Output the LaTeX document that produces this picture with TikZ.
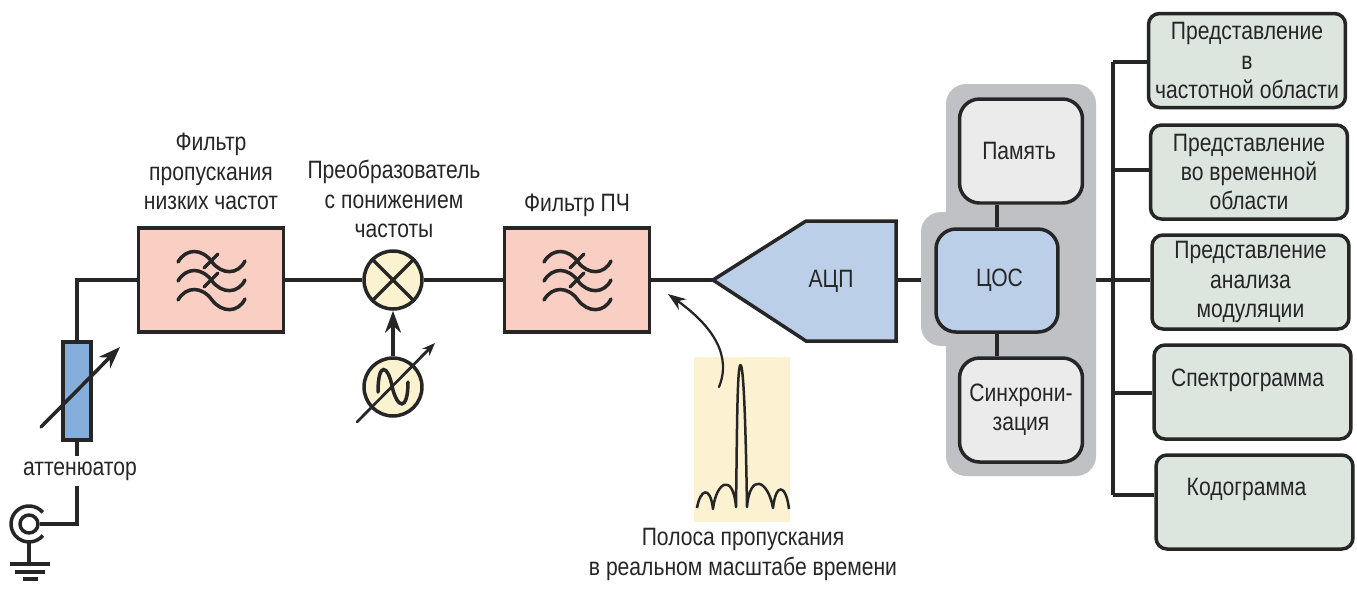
\documentclass[tikz,border=0pt]{standalone}
\usepackage{fontspec}
\setmainfont[FakeStretch=0.84]{Liberation Sans}
\usetikzlibrary{arrows.meta}

\definecolor{inkline}{HTML}{262626}
\definecolor{filterfill}{HTML}{F8CFC2}
\definecolor{mixfill}{HTML}{FBF3D0}
\definecolor{attfill}{HTML}{85AEDB}
\definecolor{dspfill}{HTML}{BBCFE9}
\definecolor{grayblock}{HTML}{BFC1C4}
\definecolor{auxfill}{HTML}{EBEBEB}
\definecolor{viewfill}{HTML}{DCE6DF}
\definecolor{bandfill}{HTML}{FCF2D2}

\tikzset{
  caption/.style={align=center,inner sep=0pt,text=inkline,font=\fontsize{14.3}{16.7}\selectfont},
  filter node/.style={rectangle,draw=inkline,fill=filterfill,minimum width=2.9cm,minimum height=2.08cm},
  mix node/.style={circle,draw=inkline,fill=mixfill,minimum size=1.16cm,inner sep=0pt},
  aux node/.style={caption,rectangle,rounded corners=0.4cm,draw=inkline,fill=auxfill,minimum width=2.46cm,minimum height=2.08cm},
  view node/.style={caption,rectangle,rounded corners=0.22cm,draw=inkline,fill=viewfill,minimum width=3.94cm,minimum height=1.88cm},
  bigtip/.style={-{Stealth[length=0.44cm,width=0.32cm]}},
  curvetip/.style={-{Stealth[length=0.36cm,width=0.26cm]}},
  smalltip/.style={-{Stealth[length=0.26cm,width=0.2cm]}},
  filter wave/.pic={
    \foreach \dy in {-19,0,19} {
      \draw[line width=0.07cm,line cap=round] (-33,\dy) .. controls (-25,-14+\dy) and (-9,-14+\dy) .. (1,\dy)
        .. controls (11,13+\dy) and (27,13+\dy) .. (34,-1+\dy);
    }
    \foreach \dy in {-19,0} {
      \draw[line width=0.07cm,line cap=round] (-7,6+\dy) -- (7,-8+\dy);
    }
  }
}

\begin{document}
\begin{tikzpicture}[x=0.02cm,y=-0.02cm,line width=0.07cm,draw=inkline]
  \useasboundingbox (0,0) rectangle (1357,600);

  % gray back of the processor
  \fill[grayblock,rounded corners=0.4cm] (946,84) rectangle (1096,476);
  \fill[grayblock,rounded corners=0.4cm] (921,212) rectangle (990,346);
  \fill[bandfill] (694,357) rectangle (790,522);

  \node[filter node] (lpf) at (211,280) {};
  \pic at (211,281) {filter wave};
  \node[filter node] (iff) at (577,280) {};
  \pic at (577,281) {filter wave};
  \node[mix node] (mix) at (393,280) {};
  \node[mix node] (osc) at (393,387) {};
  \node[rectangle,draw=inkline,fill=attfill,minimum width=0.56cm,minimum height=1.96cm] (att) at (77,391) {};
  \node[caption,minimum height=0.52cm] (attname) at (80,471) {аттенюатор};
  \node[circle,draw=inkline,minimum size=0.36cm,inner sep=0pt] (conn) at (29,524) {};
  \coordinate (gndtop) at (29,542);
  \coordinate (gnd) at (29,564);

  \coordinate (adctip) at (713,280);
  \draw[fill=dspfill,line join=miter] (adctip) -- (806,221) -- (896,221) -- (896,341) -- (806,341) -- cycle;
  \node[caption] (adc) at (831,281) {АЦП};
  \coordinate (adcout) at (896,280);
  \coordinate (blockin) at (921,280);
  \coordinate (blockout) at (1096,280);

  \node[aux node] (mem) at (1021,151) {Память\hspace{0.08cm}};
  \node[aux node,fill=dspfill,minimum width=2.44cm,minimum height=2.06cm] (dsp) at (997,280.5) {\hspace{0.1cm}ЦОС};
  \node[aux node] (sync) at (1021,410) {Синхрони-\\зация};

  % output views
  \node[view node] (freq) at (1247,60.5) {Представление\\в\\частотной области};
  \node[view node] (time) at (1249,172) {Представление\\во временной\\области};
  \node[view node] (modul) at (1250.5,282) {Представление\\анализа\\модуляции};
  \node[view node] (spec) at (1252.5,392) {Спектрограмма\hspace{0.2cm}\mbox{}\\\mbox{}};
  \node[view node] (code) at (1254.5,502) {Кодограмма\hspace{0.32cm}\mbox{}\\\mbox{}};
  \coordinate (bustop) at (1113,62);
  \coordinate (bus2) at (1113,170);
  \coordinate (bus3) at (1113,280);
  \coordinate (bus4) at (1113,393);
  \coordinate (busend) at (1113,495);

  \draw (att.north) |- (lpf.west);
  \draw (lpf.east) -- (mix.west);
  \draw (mix.east) -- (iff.west);
  \draw (iff.east) -- (adctip);
  \draw (adcout) -- (blockin);
  \draw (mem.south -| dsp) -- (dsp.north);
  \draw (sync.north -| dsp) -- (dsp.south);
  \draw (blockout) -- (bus3);
  \draw (att.south) -- (attname.north -| att);
  \draw (attname.south -| att) |- (conn.east);
  \draw (bustop) -- (busend);
  \draw (bustop) -- (bustop -| freq.west);
  \draw (bus2) -- (bus2 -| time.west);
  \draw (bus3) -- (bus3 -| modul.west);
  \draw (bus4) -- (bus4 -| spec.west);
  \draw (busend) -- (busend -| code.west);

  % connector and ground
  \draw (42.8,512.4) arc[start angle=40,end angle=320,radius=0.36cm];
  \draw (gndtop) -- (gnd);
  \draw (10,564) -- (50,564) (15,572) -- (45,572) (23,579) -- (38,579);

  % mixer cross and local oscillator
  \draw (mix.45) -- (mix.225) (mix.135) -- (mix.315);
  \draw[bigtip] (osc.north) -- (mix.south);
  \draw[line cap=round] (378,392) .. controls (378,361) and (388,365) .. (392,386)
    .. controls (397,409) and (408,412) .. (408,382);
  \draw[smalltip,line width=0.055cm,line cap=round] (357,422) -- (435,343);
  \draw[bigtip,line cap=round] (41,427) -- (120,347);

  % spectrum of the band
  \draw[line width=0.05cm,line join=round] (697,508) .. controls (700,490) and (710,484) .. (713,509)
    .. controls (716,482) and (733,472) .. (736,507)
    .. controls (737,440) and (737,365) .. (740.5,365)
    .. controls (744,365) and (746,440) .. (747,507)
    .. controls (750,472) and (768,480) .. (773,508)
    .. controls (776,482) and (786,484) .. (789,509);
  \draw[curvetip,line width=0.045cm,line cap=round] (719,387) .. controls (728,365) and (725,335) .. (668,294);

  % captions
  \node[caption] (lpfname) at (211,171.5) {Фильтр\\пропускания\\низких частот};
  \node[caption] (mixname) at (394,199) {Преобразователь\\с понижением\\частоты};
  \node[caption] (iffname) at (577,205) {Фильтр ПЧ};
  \node[caption] (bandname) at (743,554.5) {Полоса пропускания\\в реальном масштабе времени};
\end{tikzpicture}
\end{document}
